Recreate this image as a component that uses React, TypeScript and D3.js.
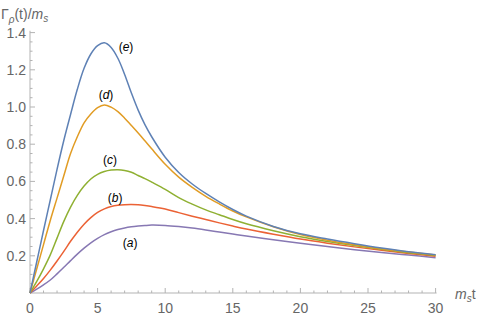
import React from "react";
import * as d3 from "d3";

const T = [0, 0.5, 1, 1.5, 2, 2.5, 3, 3.5, 4, 4.5, 5, 5.5, 6, 6.5, 7, 7.5, 8, 8.5, 9, 10, 11, 12, 13, 14, 15, 16, 18, 20, 22, 24, 26, 28, 30];

const curveE = [0, 0.168, 0.336, 0.5, 0.665, 0.82, 0.96, 1.095, 1.208, 1.285, 1.33, 1.345, 1.32, 1.262, 1.175, 1.075, 0.983, 0.905, 0.84, 0.73, 0.648, 0.586, 0.535, 0.49, 0.449, 0.413, 0.358, 0.318, 0.29, 0.265, 0.242, 0.222, 0.206];
const curveD = [0, 0.13, 0.26, 0.39, 0.51, 0.63, 0.75, 0.84, 0.915, 0.963, 0.997, 1.011, 0.999, 0.975, 0.94, 0.9, 0.86, 0.818, 0.775, 0.692, 0.623, 0.568, 0.52, 0.479, 0.441, 0.409, 0.356, 0.314, 0.284, 0.26, 0.238, 0.22, 0.204];
const curveC = [0, 0.062, 0.13, 0.205, 0.295, 0.385, 0.462, 0.525, 0.575, 0.613, 0.638, 0.653, 0.661, 0.663, 0.659, 0.649, 0.632, 0.615, 0.596, 0.557, 0.513, 0.478, 0.447, 0.421, 0.395, 0.372, 0.335, 0.303, 0.277, 0.255, 0.235, 0.217, 0.201];
const curveB = [0, 0.038, 0.078, 0.123, 0.172, 0.224, 0.278, 0.327, 0.37, 0.405, 0.433, 0.452, 0.465, 0.472, 0.475, 0.476, 0.474, 0.47, 0.465, 0.452, 0.432, 0.413, 0.395, 0.377, 0.36, 0.344, 0.316, 0.29, 0.268, 0.248, 0.23, 0.213, 0.197];
const curveA = [0, 0.021, 0.044, 0.07, 0.103, 0.138, 0.174, 0.209, 0.241, 0.27, 0.294, 0.314, 0.329, 0.341, 0.35, 0.356, 0.36, 0.363, 0.365, 0.363, 0.357, 0.349, 0.339, 0.328, 0.317, 0.306, 0.286, 0.268, 0.25, 0.233, 0.218, 0.204, 0.19];

const seriesNames = ["a", "b", "c", "d", "e"];
const seriesValues = [curveA, curveB, curveC, curveD, curveE];
const seriesColors = ["#8778B3", "#EB6235", "#8FB032", "#E19C24", "#5E81B5"];
// label anchor positions in data coordinates (baseline)
const labelT = [7.4, 6.29, 5.92, 5.62, 7.1];
const labelY = [0.247, 0.489, 0.694, 1.043, 1.301];

const xTicks = [0, 5, 10, 15, 20, 25, 30];
const yTicks = [0.2, 0.4, 0.6, 0.8, 1.0, 1.2, 1.4];

export default function App() {
  const W = 485, H = 319;
  const x = d3.scaleLinear().domain([0, 30]).range([30, 435.6]);
  const y = d3.scaleLinear().domain([0, 1.4]).range([293, 32.6]);
  const line = d3
    .line<number>()
    .x((_, i) => x(T[i]))
    .y((d) => y(d))
    .curve(d3.curveCatmullRom.alpha(0.5));

  const axisColor = "#b3b3b3";
  const textColor = "#666666";
  const font = "'Liberation Sans', Arial, sans-serif";

  const xMinor = d3.range(0, 31, 1).filter((v) => v % 5 !== 0);
  const yMinor = d3.range(0.05, 1.41, 0.05).filter((v) => Math.abs(Math.round(v / 0.2) * 0.2 - v) > 1e-6);

  return (
    <svg width={W} height={H} style={{ position: "absolute", left: 0, top: 0 }} fontFamily={font}>
      <rect width={W} height={H} fill="#fff" />
      {/* axes */}
      <line x1={x(0)} x2={x(30) + 1} y1={y(0)} y2={y(0)} stroke={axisColor} strokeWidth={1} />
      <line x1={x(0)} x2={x(0)} y1={y(0)} y2={y(1.41)} stroke={axisColor} strokeWidth={1} />
      {xTicks.map((t) => (
        <g key={"xt" + t}>
          <line x1={x(t)} x2={x(t)} y1={y(0)} y2={y(0) - 5} stroke={axisColor} />
          <text x={x(t)} y={313} textAnchor="middle" fontSize={14} fill={textColor}>{t}</text>
        </g>
      ))}
      {xMinor.map((t) => (
        <line key={"xm" + t} x1={x(t)} x2={x(t)} y1={y(0)} y2={y(0) - 2.5} stroke={axisColor} />
      ))}
      {yTicks.map((t) => (
        <g key={"yt" + t}>
          <line x1={x(0)} x2={x(0) + 5} y1={y(t)} y2={y(t)} stroke={axisColor} />
          <text x={26} y={y(t) + 5} textAnchor="end" fontSize={14} fill={textColor}>{t.toFixed(1)}</text>
        </g>
      ))}
      {yMinor.map((t, i) => (
        <line key={"ym" + i} x1={x(0)} x2={x(0) + 2.5} y1={y(t)} y2={y(t)} stroke={axisColor} />
      ))}
      {/* curves */}
      {seriesValues.map((vals, i) => (
        <path key={"s" + i} d={line(vals) || ""} fill="none" stroke={seriesColors[i]} strokeWidth={1.5} />
      ))}
      {/* curve labels */}
      {seriesNames.map((n, i) => (
        <text key={"l" + n} x={x(labelT[i])} y={y(labelY[i])} textAnchor="middle" fontSize={12} fill="#000">
          (<tspan fontStyle="italic">{n}</tspan>)
        </text>
      ))}
      {/* y axis title */}
      <text x={1} y={19} fontSize={14} fill={textColor}>
        Γ<tspan fontStyle="italic" fontSize={10} dy={4}>ρ</tspan>
        <tspan dy={-4}>(t)/</tspan>
        <tspan fontStyle="italic">m</tspan>
        <tspan fontStyle="italic" fontSize={10} dy={3}>s</tspan>
      </text>
      {/* x axis title */}
      <text x={455} y={299} fontSize={14} fill={textColor}>
        <tspan fontStyle="italic">m</tspan>
        <tspan fontStyle="italic" fontSize={10} dy={3}>s</tspan>
        <tspan dy={-3}>t</tspan>
      </text>
    </svg>
  );
}
